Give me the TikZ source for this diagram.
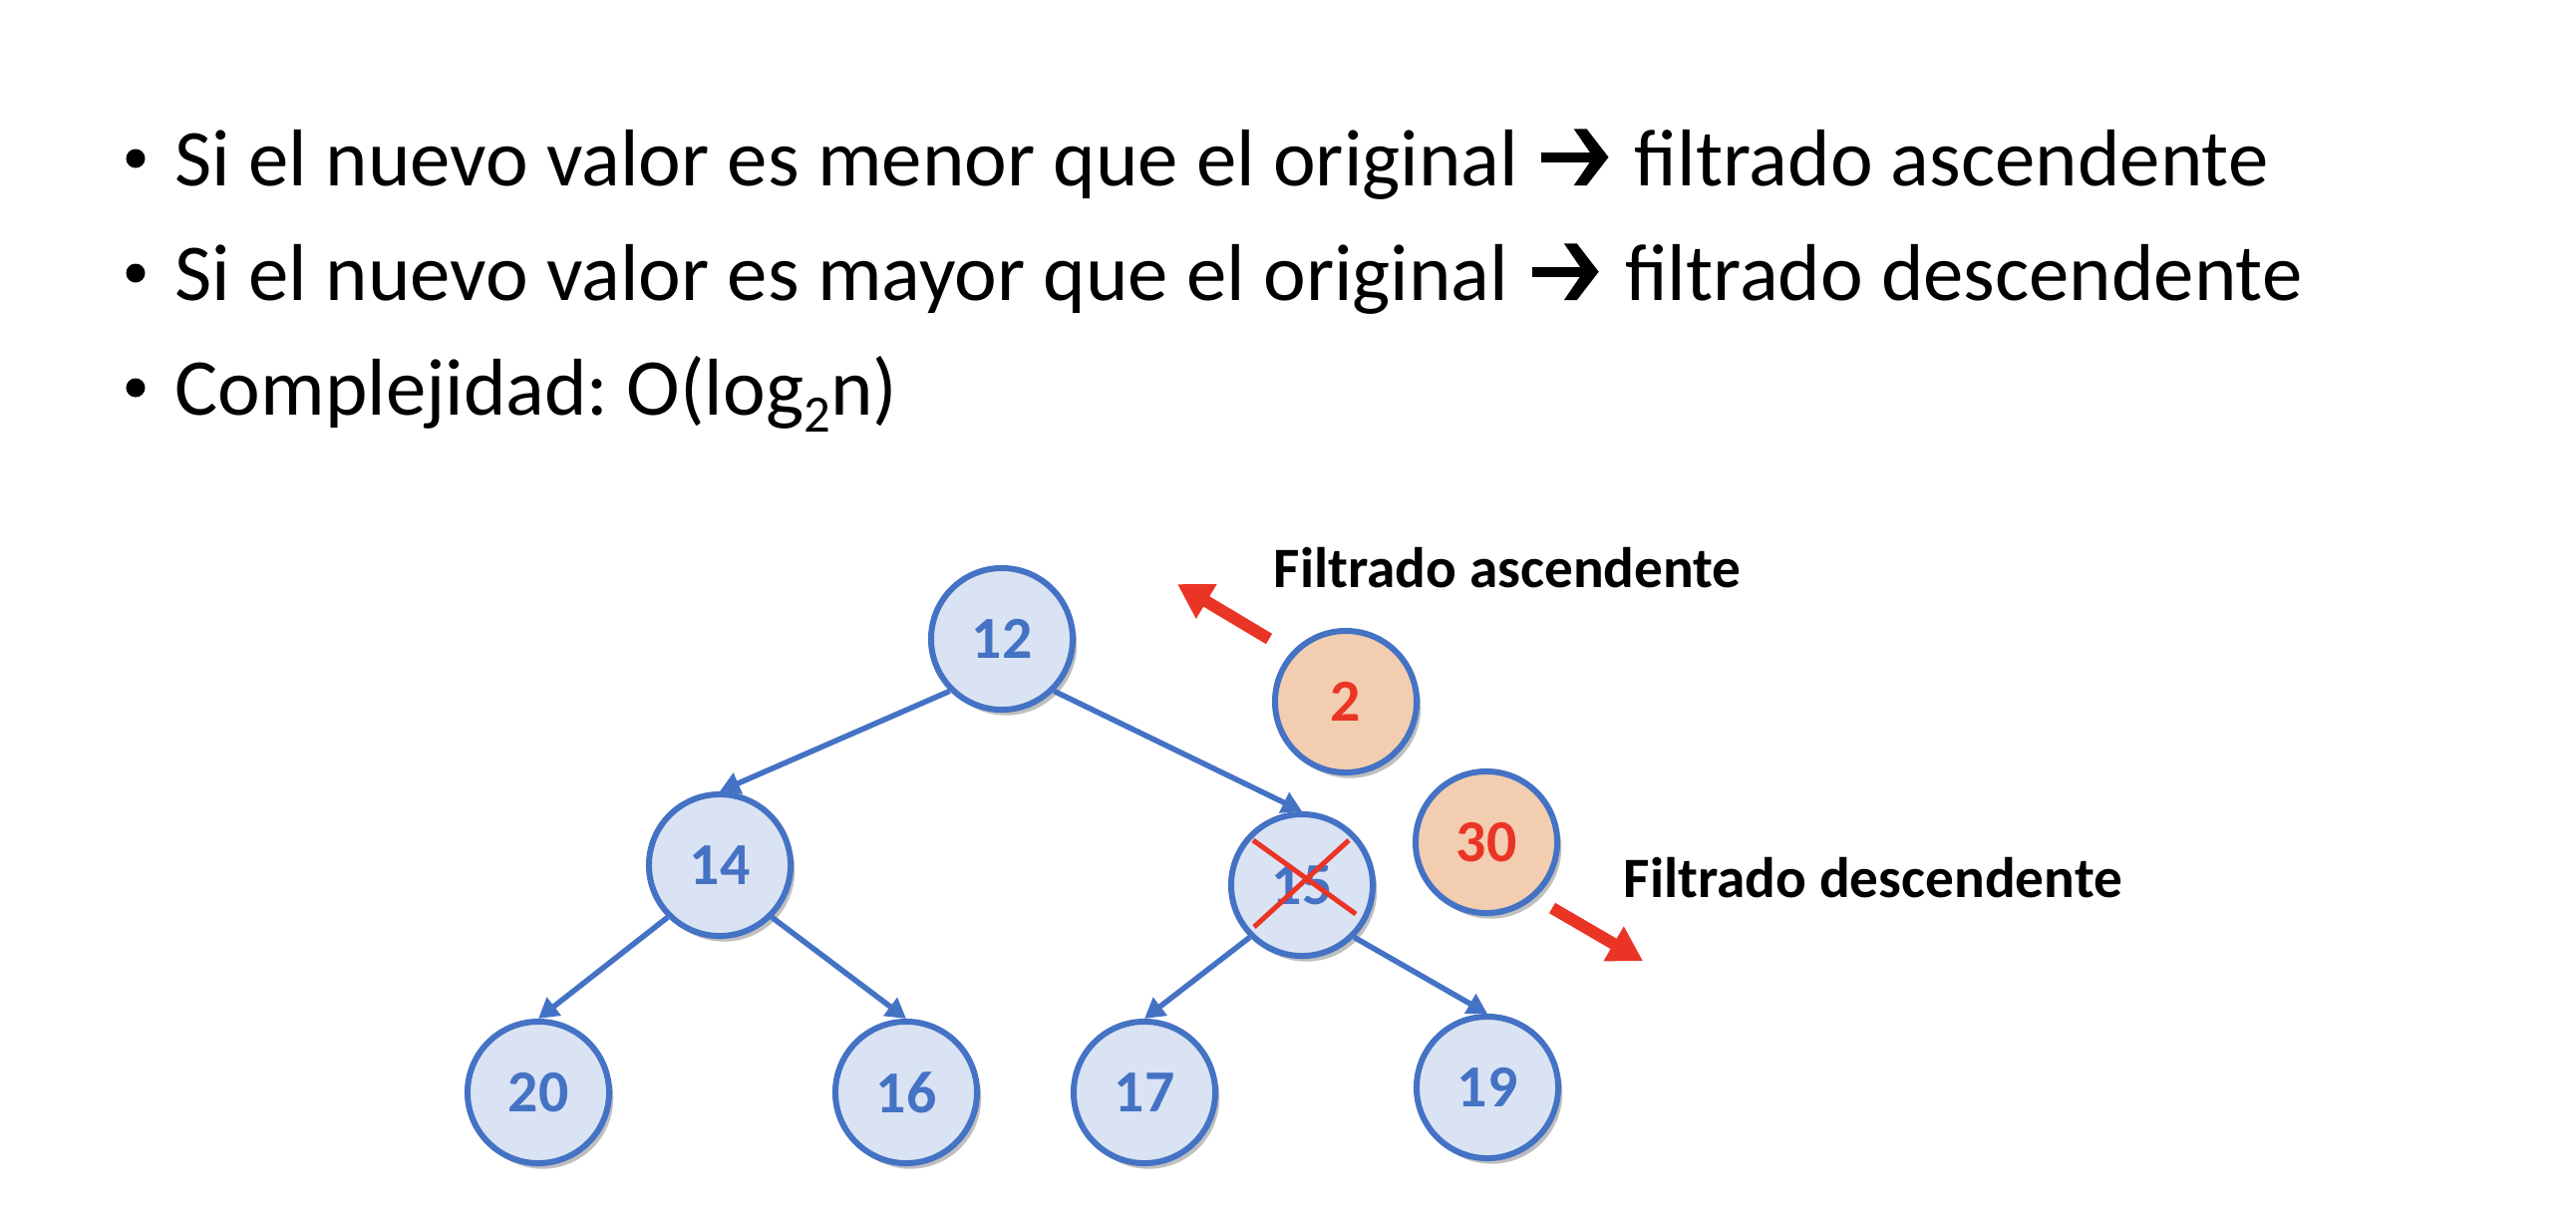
\documentclass[tikz,border=0pt]{standalone}
\usepackage{fontspec}
\setmainfont{Carlito}
\usetikzlibrary{arrows.meta,shadows}
\definecolor{nodeblue}{RGB}{68,114,196}
\definecolor{nodefill}{RGB}{218,227,243}
\definecolor{orangefill}{RGB}{242,205,176}
\definecolor{redx}{RGB}{234,52,38}
\newcommand{\thickarrow}{\hspace{0.06em}\tikz[baseline=0pt,x=1em,y=1em]{\fill (0,0.29) rectangle (0.66,0.41); \fill (0.40,0.70) -- (0.56,0.70) -- (0.83,0.35) -- (0.56,0) -- (0.40,0) -- (0.64,0.35) -- cycle;}\hspace{0.1em}}
\begin{document}
\frenchspacing
\begin{tikzpicture}[x=0.01cm,y=-0.01cm,
  heapnode/.style={circle,draw=nodeblue,line width=0.06cm,fill=nodefill,minimum size=1.42cm,inner sep=0pt,
    text=nodeblue,font=\fontsize{17}{19}\selectfont\bfseries,
    drop shadow={shadow xshift=1.2pt,shadow yshift=-1.6pt,opacity=0.25,fill=black}},
  newnode/.style={heapnode,fill=orangefill,text=redx},
  edge/.style={draw=nodeblue,line width=0.055cm,-{Triangle[length=0.2cm,width=0.22cm]}},
  bigarrow/.style={draw=redx,line width=0.12cm,-{Triangle[length=0.34cm,width=0.38cm]}},
  bulletdot/.style={circle,fill=black,minimum size=0.19cm,inner sep=0pt},
  bullettext/.style={anchor=base west,inner sep=0pt,font=\fontsize{23}{28}\selectfont},
  label/.style={anchor=base west,inner sep=0pt,font=\fontsize{16.3}{19}\selectfont\bfseries}
]
\useasboundingbox[fill=white] (0,0) rectangle (2584,1214);

% bullets
\node[bulletdot] (b1dot) at (136,159) {};
\node[bullettext] (b1) at (175,186) {Si el nuevo valor es menor que el original \thickarrow{} filtrado ascendente};
\node[bulletdot] (b2dot) at (136,274) {};
\node[bullettext] (b2) at (175,301) {Si el nuevo valor es mayor que el original \thickarrow{} filtrado descendente};
\node[bulletdot] (b3dot) at (136,389) {};
\node[bullettext] (b3) at (175,416) {Complejidad: O(log\raisebox{-0.22em}{\fontsize{15}{17}\selectfont 2}n)};

% tree
\node[heapnode] (n12) at (1005,641) {12};
\node[heapnode] (n14) at (722,868) {14};
\node[heapnode] (n15) at (1306,888) {15};
\node[heapnode] (n20) at (540,1096) {20};
\node[heapnode] (n16) at (909,1096) {16};
\node[heapnode] (n17) at (1148,1096) {17};
\node[heapnode] (n19) at (1492,1091) {19};

\path[edge] (n12.225) -- (n14.north);
\path[edge] (n12.-45) -- (n15.north);
\path[edge] (n14.225) -- (n20.north);
\path[edge] (n14.-45) -- (n16.north);
\path[edge] (n15.225) -- (n17.north);
\path[edge] (n15.-45) -- (n19.north);

% cross on 15
\coordinate (x1a) at (1257,843);
\coordinate (x1b) at (1360,917);
\coordinate (x2a) at (1353,843);
\coordinate (x2b) at (1258,930);
\draw[redx,line width=0.05cm] (x1a) -- (x1b);
\draw[redx,line width=0.05cm] (x2a) -- (x2b);

% new values
\node[newnode] (n2) at (1350,704) {2};
\node[newnode] (n30) at (1491,845) {30};

% red arrows
\coordinate (a1s) at (1273,641);
\coordinate (a1e) at (1181,586);
\coordinate (a2s) at (1557,911);
\coordinate (a2e) at (1648,964);
\path[bigarrow] (a1s) -- (a1e);
\path[bigarrow] (a2s) -- (a2e);

% labels
\node[label] (lasc) at (1277,589) {Filtrado ascendente};
\node[label] (ldesc) at (1628,900) {Filtrado descendente};
\end{tikzpicture}
\end{document}
